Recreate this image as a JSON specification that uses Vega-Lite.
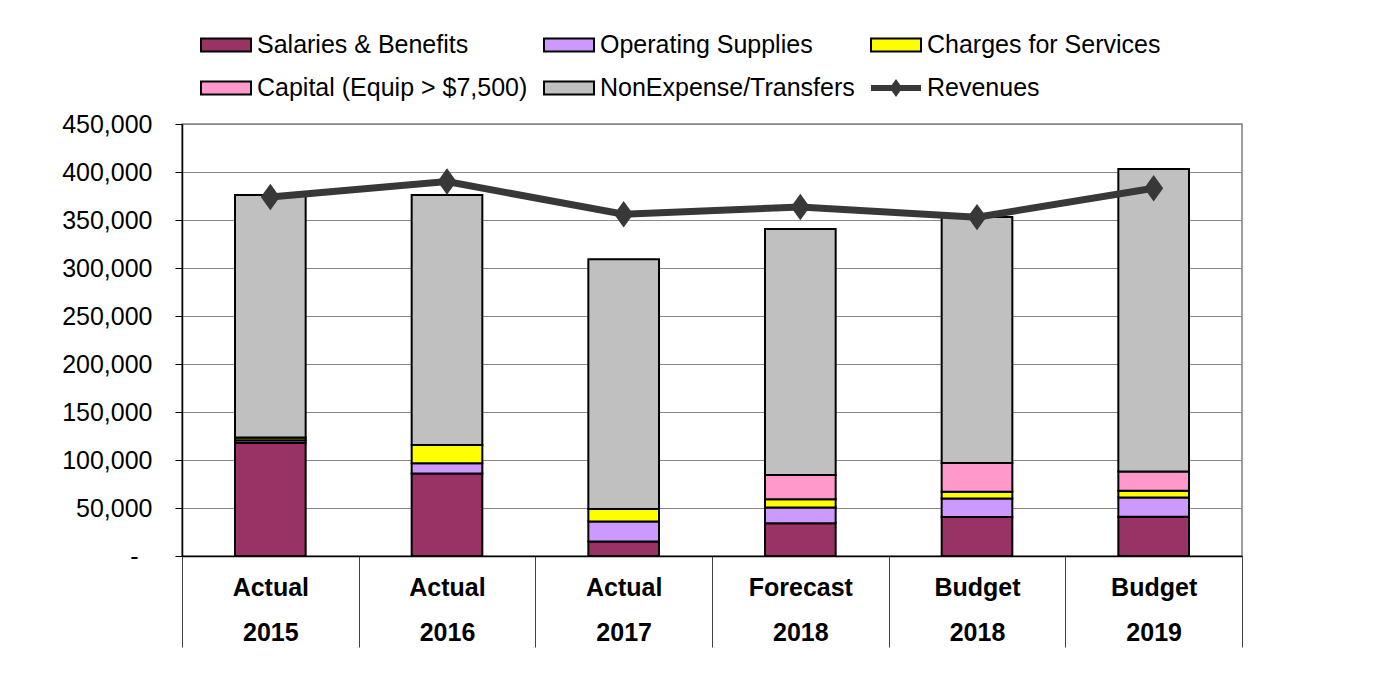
{
  "$schema": "https://vega.github.io/schema/vega-lite/v6.json",
  "width": 1060,
  "height": 432,
  "autosize": {"type": "none"},
  "padding": {"left": 182, "top": 124, "right": 154, "bottom": 118},
  "background": "white",
  "config": {
    "font": "Liberation Sans",
    "view": {"stroke": "#808080", "strokeWidth": 1.5}
  },
  "datasets": {
    "bars": [
      {"cat": "Actual 2015", "series": "Salaries & Benefits", "value": 118000},
      {"cat": "Actual 2015", "series": "Operating Supplies", "value": 2500},
      {"cat": "Actual 2015", "series": "Charges for Services", "value": 3000},
      {"cat": "Actual 2015", "series": "Capital (Equip > $7,500)", "value": 0},
      {"cat": "Actual 2015", "series": "NonExpense/Transfers", "value": 252500},
      {"cat": "Actual 2016", "series": "Salaries & Benefits", "value": 86000},
      {"cat": "Actual 2016", "series": "Operating Supplies", "value": 10500},
      {"cat": "Actual 2016", "series": "Charges for Services", "value": 19000},
      {"cat": "Actual 2016", "series": "Capital (Equip > $7,500)", "value": 0},
      {"cat": "Actual 2016", "series": "NonExpense/Transfers", "value": 260500},
      {"cat": "Actual 2017", "series": "Salaries & Benefits", "value": 15000},
      {"cat": "Actual 2017", "series": "Operating Supplies", "value": 21000},
      {"cat": "Actual 2017", "series": "Charges for Services", "value": 13000},
      {"cat": "Actual 2017", "series": "Capital (Equip > $7,500)", "value": 0},
      {"cat": "Actual 2017", "series": "NonExpense/Transfers", "value": 260000},
      {"cat": "Forecast 2018", "series": "Salaries & Benefits", "value": 34000},
      {"cat": "Forecast 2018", "series": "Operating Supplies", "value": 16500},
      {"cat": "Forecast 2018", "series": "Charges for Services", "value": 8500},
      {"cat": "Forecast 2018", "series": "Capital (Equip > $7,500)", "value": 25500},
      {"cat": "Forecast 2018", "series": "NonExpense/Transfers", "value": 256000},
      {"cat": "Budget 2018", "series": "Salaries & Benefits", "value": 40500},
      {"cat": "Budget 2018", "series": "Operating Supplies", "value": 19500},
      {"cat": "Budget 2018", "series": "Charges for Services", "value": 7000},
      {"cat": "Budget 2018", "series": "Capital (Equip > $7,500)", "value": 30000},
      {"cat": "Budget 2018", "series": "NonExpense/Transfers", "value": 256000},
      {"cat": "Budget 2019", "series": "Salaries & Benefits", "value": 41000},
      {"cat": "Budget 2019", "series": "Operating Supplies", "value": 20000},
      {"cat": "Budget 2019", "series": "Charges for Services", "value": 7000},
      {"cat": "Budget 2019", "series": "Capital (Equip > $7,500)", "value": 20000},
      {"cat": "Budget 2019", "series": "NonExpense/Transfers", "value": 315000}
    ],
    "rev": [
      {"cat": "Actual 2015", "value": 374000},
      {"cat": "Actual 2016", "value": 390000},
      {"cat": "Actual 2017", "value": 356000},
      {"cat": "Forecast 2018", "value": 363500},
      {"cat": "Budget 2018", "value": 353000},
      {"cat": "Budget 2019", "value": 383000}
    ]
  },
  "layer": [
    {
      "data": {"name": "bars"},
      "transform": [
        {"calculate": "indexof(['Salaries & Benefits','Operating Supplies','Charges for Services','Capital (Equip > $7,500)','NonExpense/Transfers'], datum.series)", "as": "ord"}
      ],
      "mark": {"type": "bar", "width": {"band": 0.4}, "stroke": "black", "strokeWidth": 2},
      "encoding": {
        "x": {
          "field": "cat", "type": "nominal",
          "scale": {"domain": ["Actual 2015", "Actual 2016", "Actual 2017", "Forecast 2018", "Budget 2018", "Budget 2019"], "paddingInner": 0, "paddingOuter": 0},
          "axis": {
            "title": null, "labelAngle": 0, "tickBand": "extent", "tickSize": 91, "tickColor": "#404040", "tickWidth": 1,
            "domainColor": "black", "domainWidth": 1.5, "labelFontSize": 25, "labelFontWeight": "bold", "labelColor": "black",
            "labelLineHeight": 45, "labelPadding": -72, "labelBaseline": "top", "grid": false,
            "labelExpr": "split(datum.label, ' ')"
          }
        },
        "y": {
          "field": "value", "type": "quantitative", "stack": "zero",
          "scale": {"domain": [0, 450000], "nice": false},
          "axis": {
            "title": null, "values": [0, 50000, 100000, 150000, 200000, 250000, 300000, 350000, 400000, 450000],
            "labelExpr": "datum.value === 0 ? '-' : format(datum.value, ',')",
            "tickSize": 7, "labelFontSize": 25, "labelColor": "black",
            "labelPadding": {"condition": {"test": "datum.value === 0", "value": 37}, "value": 23},
            "domainColor": "black", "domainWidth": 1.5, "tickColor": "black", "gridColor": "#8a8a8a", "gridWidth": 1
          }
        },
        "color": {
          "field": "series", "type": "nominal",
          "scale": {
            "domain": ["Salaries & Benefits", "Operating Supplies", "Charges for Services", "Capital (Equip > $7,500)", "NonExpense/Transfers", "Revenues"],
            "range": ["#993366", "#CC99FF", "#FFFF00", "#FF99CC", "#C0C0C0", "#383838"]
          },
          "legend": {
            "title": null, "orient": "none", "legendX": 18, "legendY": -105, "direction": "horizontal", "columns": 3,
            "symbolSize": 2500, "symbolType": "M-1,-0.26H1V0.26H-1Z", "symbolStrokeColor": "black", "symbolStrokeWidth": 2,
            "labelFontSize": 25, "labelColor": "black", "labelOffset": 5, "columnPadding": 12, "rowPadding": 4, "labelLimit": 400,
            "encode": {
              "symbols": {
                "update": {
                  "shape": {"signal": "datum.value === 'Revenues' ? 'M-1,-0.12H-0.17L0,-0.36L0.17,-0.12H1V0.12H0.17L0,0.36L-0.17,0.12H-1Z' : 'M-1,-0.26H1V0.26H-1Z'"},
                  "stroke": {"signal": "datum.value === 'Revenues' ? 'transparent' : 'black'"},
                  "fill": {"signal": "scale('color', datum.value)"},
                  "opacity": {"value": 1},
                  "fillOpacity": {"value": 1}
                }
              }
            }
          }
        },
        "order": {"field": "ord", "type": "quantitative"}
      }
    },
    {
      "data": {"name": "rev"},
      "mark": {"type": "line", "color": "#383838", "strokeWidth": 7},
      "encoding": {
        "x": {"field": "cat", "type": "nominal"},
        "y": {"field": "value", "type": "quantitative"}
      }
    },
    {
      "data": {"name": "rev"},
      "mark": {"type": "point", "filled": true, "color": "#383838", "opacity": 1, "shape": "M0,-1L0.72,0L0,1L-0.72,0Z", "size": 700},
      "encoding": {
        "x": {"field": "cat", "type": "nominal"},
        "y": {"field": "value", "type": "quantitative"}
      }
    }
  ]
}
